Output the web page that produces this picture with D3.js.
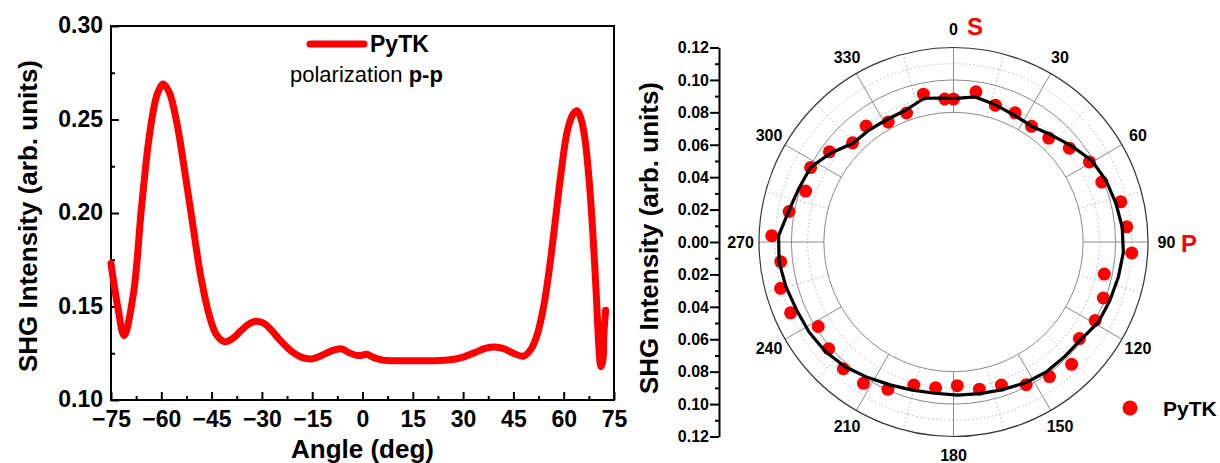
<!DOCTYPE html>
<html>
<head>
<meta charset="utf-8">
<script src="https://cdn.jsdelivr.net/npm/d3@7"></script>
<style>
  html, body { margin: 0; padding: 0; background: #ffffff; }
  svg { display: block; }
  text { font-family: "Liberation Sans", Arial, sans-serif; }
</style>
</head>
<body>
<svg id="chart" width="1220" height="463"></svg>
<script>
// ---------- Left panel data: SHG intensity vs angle (p-p) ----------
const angleDeg = [-75.0, -73.0, -71.1, -68.3, -65.9, -63.5, -61.2, -59.4, -57.6, -55.3, -52.9, -50.5, -48.2, -45.8, -43.5, -41.1, -38.7, -36.4, -34.0, -31.7, -29.3, -26.9, -24.6, -21.0, -18.1, -15.1, -12.2, -9.2, -6.3, -3.9, -1.5, 0.0, 1.2, 3.2, 6.1, 9.7, 15.6, 21.5, 26.2, 29.8, 33.3, 36.8, 39.4, 42.2, 45.1, 48.1, 50.4, 52.2, 54.0, 55.8, 57.5, 59.3, 61.1, 62.8, 64.0, 65.2, 66.4, 67.6, 68.7, 69.7, 70.5, 71.1, 71.7, 72.0, 72.5];
const shgPP = [0.173, 0.150, 0.1345, 0.157, 0.203, 0.242, 0.2636, 0.2690, 0.2644, 0.2476, 0.221, 0.1924, 0.1658, 0.146, 0.1347, 0.1311, 0.1329, 0.1368, 0.1405, 0.1421, 0.1409, 0.1368, 0.132, 0.1258, 0.1228, 0.1220, 0.1238, 0.1263, 0.1274, 0.1252, 0.1238, 0.1240, 0.1245, 0.1228, 0.1213, 0.1210, 0.1210, 0.1210, 0.1215, 0.1228, 0.1252, 0.1277, 0.1284, 0.1274, 0.1249, 0.1235, 0.1276, 0.1356, 0.1498, 0.1711, 0.196, 0.2227, 0.244, 0.2529, 0.2547, 0.2502, 0.2387, 0.2173, 0.1889, 0.1569, 0.1284, 0.1178, 0.1213, 0.1356, 0.148];
const xTickValues = [-75, -60, -45, -30, -15, 0, 15, 30, 45, 60, 75];
const xMinorTicks = [-67.5, -52.5, -37.5, -22.5, -7.5, 7.5, 22.5, 37.5, 52.5, 67.5];
const yTickValues = [0.10, 0.15, 0.20, 0.25, 0.30];
const yMinorTicks = [0.125, 0.175, 0.225, 0.275];

// ---------- Right panel data: polar SHG (points + fit) ----------
const polarAngles = [0, 8.5, 17, 25.5, 34, 42.5, 51, 59.5, 68, 76.5, 85, 93.5, 102, 110.5, 119, 127.5, 136, 144.5, 153, 161.5, 170, 178.5, 187, 195.5, 204, 212.5, 221, 229.5, 238, 246.5, 255, 263.5, 272, 280.5, 289, 297.5, 306, 314.5, 323, 331.5, 340, 348.5, 356.5];
const polarPoints = [0.0882, 0.0937, 0.0883, 0.0883, 0.0861, 0.0870, 0.0920, 0.0973, 0.0987, 0.1061, 0.1073, 0.1102, 0.0951, 0.0987, 0.0999, 0.0979, 0.1049, 0.1020, 0.0988, 0.0931, 0.0922, 0.0887, 0.0906, 0.0916, 0.0995, 0.1034, 0.1036, 0.1013, 0.0984, 0.1096, 0.1104, 0.1073, 0.1122, 0.1032, 0.0965, 0.0994, 0.0946, 0.0873, 0.0896, 0.0843, 0.0847, 0.0931, 0.0884];
const polarFit = [0.0885, 0.0905, 0.0885, 0.0868, 0.0862, 0.0895, 0.0940, 0.0990, 0.1015, 0.1030, 0.1045, 0.1050, 0.1040, 0.1030, 0.1022, 0.0990, 0.0985, 0.0985, 0.0975, 0.0960, 0.0950, 0.0945, 0.0940, 0.0948, 0.0965, 0.0990, 0.1020, 0.1040, 0.1050, 0.1055, 0.1070, 0.1083, 0.1080, 0.1035, 0.1010, 0.0995, 0.0935, 0.0870, 0.0865, 0.0860, 0.0865, 0.0905, 0.0890];
const angularLabels = [0, 30, 60, 90, 120, 150, 180, 210, 240, 270, 300, 330];
const radialTicks = [-0.12, -0.10, -0.08, -0.06, -0.04, -0.02, 0.00, 0.02, 0.04, 0.06, 0.08, 0.10, 0.12];
const radialMinor = [-0.11, -0.09, -0.07, -0.05, -0.03, -0.01, 0.01, 0.03, 0.05, 0.07, 0.09, 0.11];
const solidRings = [0.08, 0.10];
const dottedRings = [0.09, 0.11];
const seriesName = "PyTK";

const svg = d3.select("#chart");
const RED = "#ff0000";

// ================= LEFT PANEL =================
const L = { left: 111, right: 614, top: 26, bottom: 400 };
const x = d3.scaleLinear().domain([-75, 75]).range([L.left, L.right]);
const y = d3.scaleLinear().domain([0.10, 0.30]).range([L.bottom, L.top]);

const left = svg.append("g");

// box
left.append("rect")
  .attr("x", L.left).attr("y", L.top)
  .attr("width", L.right - L.left).attr("height", L.bottom - L.top)
  .attr("fill", "none").attr("stroke", "#000").attr("stroke-width", 2);

// x axis
const xAxis = left.append("g").attr("transform", `translate(0,${L.bottom})`)
  .call(d3.axisBottom(x).tickValues(xTickValues).tickSizeInner(-8).tickSizeOuter(0).tickFormat(d3.format("d")));
xAxis.select(".domain").remove();
xAxis.selectAll("line").attr("stroke-width", 2);
xAxis.selectAll("text").attr("y", 27).attr("dy", 0)
  .attr("font-size", 23).attr("font-weight", "bold").attr("fill", "#000")
  .attr("font-family", "'Liberation Sans', Arial, sans-serif");
const xMinor = left.append("g").attr("transform", `translate(0,${L.bottom})`)
  .call(d3.axisBottom(x).tickValues(xMinorTicks).tickSizeInner(-4).tickSizeOuter(0).tickFormat(""));
xMinor.select(".domain").remove();
xMinor.selectAll("line").attr("stroke-width", 2);

// y axis
const yAxis = left.append("g").attr("transform", `translate(${L.left},0)`)
  .call(d3.axisLeft(y).tickValues(yTickValues).tickSizeInner(-8).tickSizeOuter(0).tickFormat(d3.format(".2f")));
yAxis.select(".domain").remove();
yAxis.selectAll("line").attr("stroke-width", 2);
yAxis.selectAll("text").attr("x", -8).attr("dy", "0.3em")
  .attr("font-size", 23).attr("font-weight", "bold").attr("fill", "#000")
  .attr("font-family", "'Liberation Sans', Arial, sans-serif");
const yMinor = left.append("g").attr("transform", `translate(${L.left},0)`)
  .call(d3.axisLeft(y).tickValues(yMinorTicks).tickSizeInner(-4).tickSizeOuter(0).tickFormat(""));
yMinor.select(".domain").remove();
yMinor.selectAll("line").attr("stroke-width", 2);

// axis titles
left.append("text")
  .attr("x", (L.left + L.right) / 2).attr("y", 458)
  .attr("text-anchor", "middle").attr("font-size", 26).attr("font-weight", "bold")
  .text("Angle (deg)");
left.append("text")
  .attr("transform", "translate(37,216) rotate(-90)")
  .attr("text-anchor", "middle").attr("font-size", 26).attr("font-weight", "bold")
  .text("SHG Intensity (arb. units)");

// curve
const lineData = angleDeg.map((a, i) => [a, shgPP[i]]);
left.append("path")
  .datum(lineData)
  .attr("fill", "none").attr("stroke", RED).attr("stroke-width", 7)
  .attr("stroke-linejoin", "round").attr("stroke-linecap", "round")
  .attr("d", d3.line().x(d => x(d[0])).y(d => y(d[1])).curve(d3.curveCatmullRom.alpha(0.5)));

// legend
left.append("line")
  .attr("x1", 310).attr("x2", 364).attr("y1", 44).attr("y2", 44)
  .attr("stroke", RED).attr("stroke-width", 7).attr("stroke-linecap", "round");
left.append("text")
  .attr("x", 370).attr("y", 52).attr("font-size", 23).attr("font-weight", "bold")
  .text(seriesName);
const pol = left.append("text").attr("x", 290).attr("y", 82).attr("font-size", 22);
pol.append("tspan").text("polarization ");
pol.append("tspan").attr("font-weight", "bold").text("p-p");

// ================= RIGHT PANEL (polar) =================
const cx = 953.5, cy = 242, R = 194.5;
const r = d3.scaleLinear().domain([0, 0.12]).range([0, R]);
const P = svg.append("g").attr("transform", `translate(${cx},${cy})`);
const rad = a => a * Math.PI / 180;

// dotted rings
P.selectAll("circle.dring").data(dottedRings).join("circle")
  .attr("r", d => r(d)).attr("fill", "none")
  .attr("stroke", "#b5b5b5").attr("stroke-width", 1).attr("stroke-dasharray", "1.5,2.5");
// dotted spokes (15° offsets)
const dottedSpokes = angularLabels.map(a => a + 15);
P.selectAll("line.dspoke").data(dottedSpokes).join("line")
  .attr("x1", d => r(0.08) * Math.sin(rad(d))).attr("y1", d => -r(0.08) * Math.cos(rad(d)))
  .attr("x2", d => r(0.12) * Math.sin(rad(d))).attr("y2", d => -r(0.12) * Math.cos(rad(d)))
  .attr("stroke", "#b5b5b5").attr("stroke-width", 1).attr("stroke-dasharray", "1.5,2.5");
// solid spokes
P.selectAll("line.spoke").data(angularLabels).join("line")
  .attr("x1", d => r(0.08) * Math.sin(rad(d))).attr("y1", d => -r(0.08) * Math.cos(rad(d)))
  .attr("x2", d => r(0.12) * Math.sin(rad(d))).attr("y2", d => -r(0.12) * Math.cos(rad(d)))
  .attr("stroke", "#8a8a8a").attr("stroke-width", 1);
// solid rings
P.selectAll("circle.sring").data(solidRings).join("circle")
  .attr("r", d => r(d)).attr("fill", "none")
  .attr("stroke", "#8a8a8a").attr("stroke-width", 1);
// outer ring
P.append("circle").attr("r", r(0.12)).attr("fill", "none")
  .attr("stroke", "#333").attr("stroke-width", 1.2);

// angular labels
P.selectAll("text.alab").data(angularLabels).join("text")
  .attr("x", d => 213 * Math.sin(rad(d))).attr("y", d => -213 * Math.cos(rad(d)))
  .attr("text-anchor", "middle").attr("dy", "0.35em")
  .attr("font-size", 16).attr("font-weight", "bold")
  .text(d => d);

// S and P labels
svg.append("text").attr("x", 975).attr("y", 35).attr("text-anchor", "middle")
  .attr("font-size", 24).attr("font-weight", "bold").attr("fill", RED).text("S");
svg.append("text").attr("x", 1189).attr("y", 252).attr("text-anchor", "middle")
  .attr("font-size", 24).attr("font-weight", "bold").attr("fill", RED).text("P");

// data points
P.selectAll("circle.pt").data(polarAngles.map((a, i) => [a, polarPoints[i]])).join("circle")
  .attr("cx", d => r(d[1]) * Math.sin(rad(d[0])))
  .attr("cy", d => -r(d[1]) * Math.cos(rad(d[0])))
  .attr("r", 6.5).attr("fill", RED);

// fit line
P.append("path")
  .datum(polarAngles.map((a, i) => [a, polarFit[i]]))
  .attr("fill", "none").attr("stroke", "#000").attr("stroke-width", 3.2)
  .attr("stroke-linejoin", "round")
  .attr("d", d3.lineRadial().angle(d => rad(d[0])).radius(d => r(d[1])).curve(d3.curveLinearClosed));

// radial axis (left, mirrored)
const yr = d3.scaleLinear().domain([-0.12, 0.12]).range([cy + R, cy - R]);
const rAxis = svg.append("g").attr("transform", "translate(719,0)")
  .call(d3.axisLeft(yr).tickValues(radialTicks).tickSizeInner(9).tickSizeOuter(0)
    .tickFormat(d => d3.format(".2f")(Math.abs(d))));
rAxis.select(".domain").attr("stroke-width", 2);
rAxis.selectAll("line").attr("stroke-width", 2);
rAxis.selectAll("text").attr("x", -10).attr("dy", "0.33em")
  .attr("font-size", 16).attr("font-weight", "bold").attr("fill", "#000")
  .attr("font-family", "'Liberation Sans', Arial, sans-serif");
const rMinor = svg.append("g").attr("transform", "translate(719,0)")
  .call(d3.axisLeft(yr).tickValues(radialMinor).tickSizeInner(4).tickSizeOuter(0).tickFormat(""));
rMinor.select(".domain").remove();
rMinor.selectAll("line").attr("stroke-width", 2);

svg.append("text")
  .attr("transform", "translate(658,238) rotate(-90)")
  .attr("text-anchor", "middle").attr("font-size", 26).attr("font-weight", "bold")
  .text("SHG Intensity (arb. units)");

// legend right
svg.append("circle").attr("cx", 1130).attr("cy", 408).attr("r", 7.5).attr("fill", RED);
svg.append("text").attr("x", 1163).attr("y", 416).attr("font-size", 21).attr("font-weight", "bold")
  .text(seriesName);
</script>
</body>
</html>
